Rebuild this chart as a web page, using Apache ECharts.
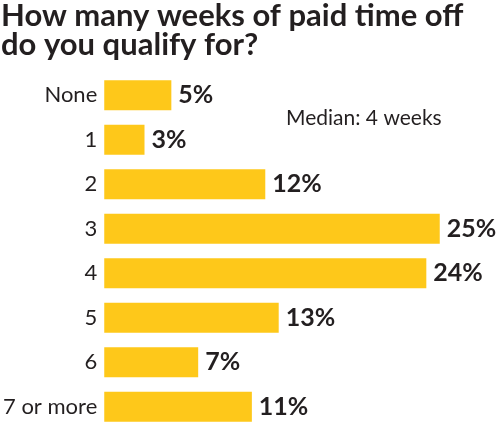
<!DOCTYPE html>
<html>
<head>
<meta charset="utf-8">
<script src="https://cdn.jsdelivr.net/npm/echarts@6/dist/echarts.min.js"></script>
<style>
  html, body { margin: 0; padding: 0; background: #fff; }
  #chart { width: 500px; height: 429px; }
</style>
</head>
<body>
<div id="chart"></div>
<script>
// 带薪休假周数
const categories = ['None', '1', '2', '3', '4', '5', '6', '7 or more'];
const shares = [5, 3, 12, 25, 24, 13, 7, 11];

const chart = echarts.init(document.getElementById('chart'));

const option = {
  animation: false,
  textStyle: { fontFamily: 'Lato' },
  title: {
    text: 'How many weeks of paid time off\ndo you qualify for?',
    left: 1,
    top: 1,
    padding: 0,
    textStyle: {
      fontFamily: 'Lato',
      fontSize: 31,
      fontWeight: 'bold',
      color: '#231f20',
      lineHeight: 29,
    },
  },
  graphic: [
    {
      type: 'text',
      left: 286,
      top: 108,
      style: {
        text: 'Median: 4 weeks',
        font: '21px Lato',
        fill: '#231f20',
      },
    },
  ],
  grid: {
    left: 101,
    right: 20,
    top: 73,
    height: 363,
  },
  xAxis: {
    type: 'value',
    min: 0,
    max: 28,
    show: false,
  },
  yAxis: {
    type: 'category',
    inverse: true,
    data: categories,
    axisLine: { show: false },
    axisTick: { show: false },
    axisLabel: {
      margin: 7,
      fontSize: 22,
      color: '#231f20',
      fontFamily: 'Lato',
    },
  },
  series: [
    {
      type: 'bar',
      data: shares,
      barWidth: 30,
      itemStyle: { color: '#fec81a' },
      label: {
        show: true,
        position: 'right',
        distance: 7,
        formatter: '{c}%',
        fontFamily: 'Lato',
        fontSize: 25,
        fontWeight: 'bold',
        color: '#231f20',
      },
    },
  ],
};

option && chart.setOption(option);
</script>
</body>
</html>
